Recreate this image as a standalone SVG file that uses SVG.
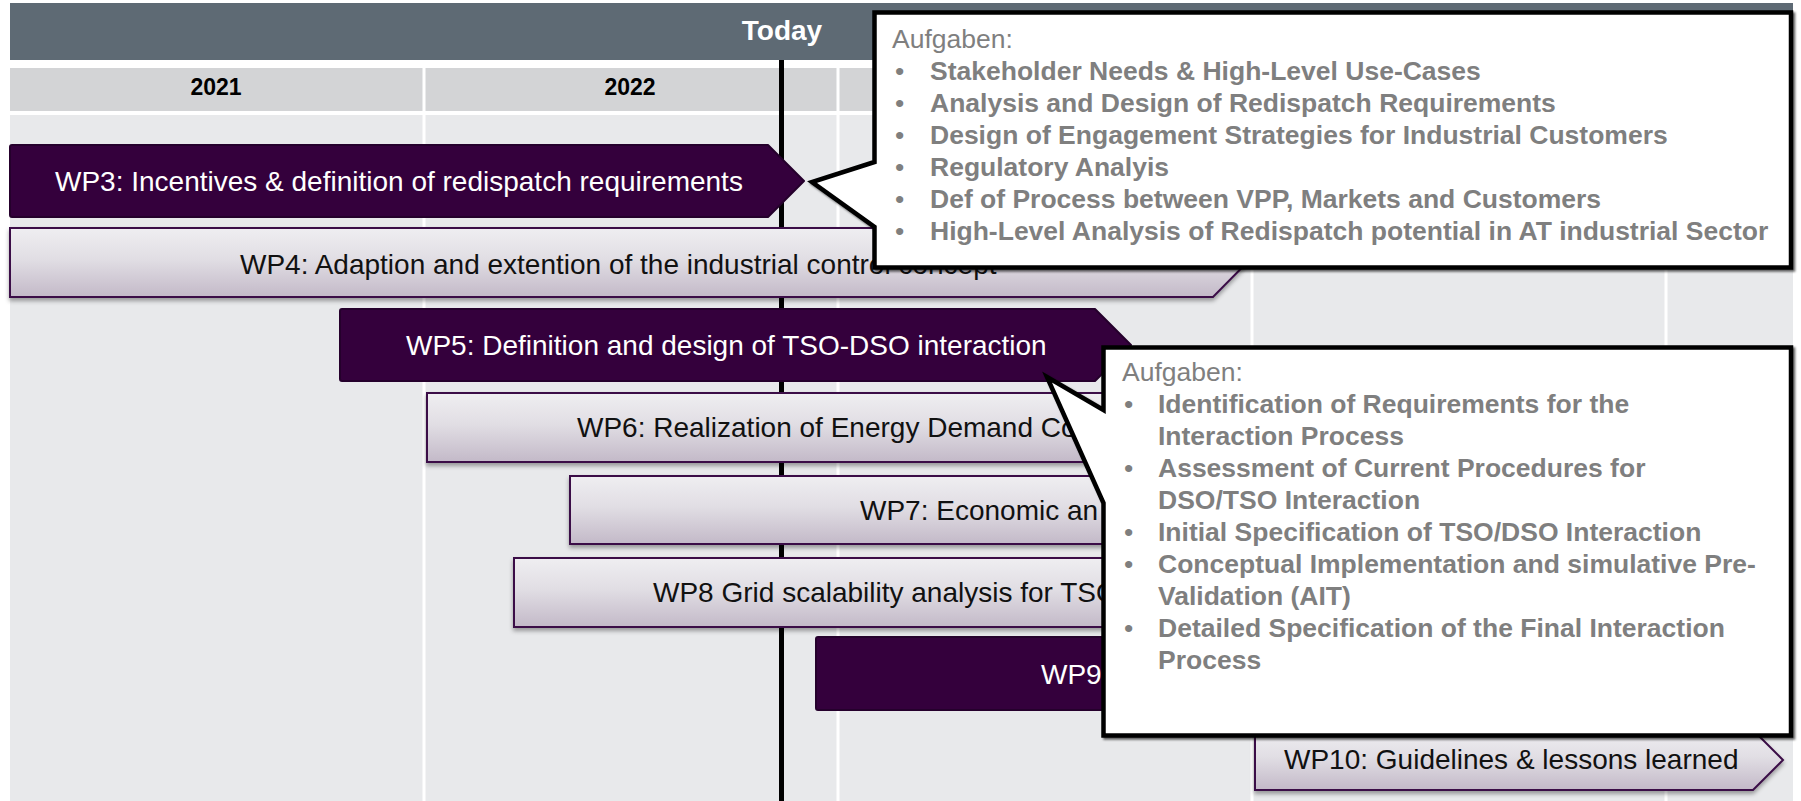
<svg xmlns="http://www.w3.org/2000/svg" width="1801" height="801" viewBox="0 0 1801 801">
<defs>
<linearGradient id="lightGrad" x1="0" y1="0" x2="0" y2="1">
<stop offset="0" stop-color="#efeef1"/>
<stop offset="0.45" stop-color="#e1dee4"/>
<stop offset="1" stop-color="#c3b9c8"/>
</linearGradient>
<filter id="barShadow" x="-5%" y="-20%" width="110%" height="150%">
<feDropShadow dx="0" dy="3" stdDeviation="2" flood-color="#000" flood-opacity="0.35"/>
</filter>
<filter id="boxShadow" x="-5%" y="-5%" width="110%" height="110%">
<feDropShadow dx="2" dy="2" stdDeviation="1" flood-color="#000" flood-opacity="0.6"/>
</filter>
</defs>
<style>
.dark{fill:#34003c;stroke:#25002c;stroke-width:2;stroke-linejoin:round}
.light{fill:url(#lightGrad);stroke:#3b0b47;stroke-width:2;stroke-linejoin:miter;filter:url(#barShadow)}
.wpW{font-family:"Liberation Sans",Arial,sans-serif;font-size:28px;fill:#ffffff}
.wpB{font-family:"Liberation Sans",Arial,sans-serif;font-size:28px;fill:#111111}
.year{font-family:"Liberation Sans",Arial,sans-serif;font-size:23px;font-weight:bold;fill:#000;text-anchor:middle}
.callout{fill:#ffffff;stroke:#000;stroke-width:4.5;stroke-linejoin:miter;filter:url(#boxShadow)}
.ctitle{font-family:"Liberation Sans",Arial,sans-serif;font-size:26.5px;fill:#7f7f7f}
.citem{font-family:"Liberation Sans",Arial,sans-serif;font-size:26.5px;font-weight:bold;fill:#7f7f7f}
.bullet{font-family:"Liberation Sans",Arial,sans-serif;font-size:26.5px;fill:#7f7f7f}
.divider{stroke:#ffffff;stroke-width:3}
</style>
<rect x="0" y="0" width="1801" height="801" fill="#ffffff"/>
<g id="timeline">
<rect x="10" y="3" width="1783" height="57" fill="#5e6a74"/>
<rect x="10" y="68" width="1783" height="43" fill="#d3d4d6"/>
<rect x="10" y="115" width="1783" height="686" fill="#e8e9eb"/>
<line class="divider" x1="424" y1="68" x2="424" y2="801"/>
<line class="divider" x1="838" y1="68" x2="838" y2="801"/>
<line class="divider" x1="1252" y1="68" x2="1252" y2="801"/>
<line class="divider" x1="1666" y1="68" x2="1666" y2="801"/>
<text class="year" x="216" y="95">2021</text>
<text class="year" x="630" y="95">2022</text>
<text x="782" y="40" font-family="Liberation Sans, Arial, sans-serif" font-size="28" font-weight="bold" fill="#ffffff" text-anchor="middle">Today</text>
<line x1="781.5" y1="60" x2="781.5" y2="801" stroke="#000" stroke-width="5"/>
</g>
<g id="connectors"></g>
<g id="wp3">
<path class="dark" d="M12,145 H768 L804,181 L768,217 H12 Q10,217 10,215 V147 Q10,145 12,145 Z"/>
<text class="wpW" x="55" y="191">WP3: Incentives &amp; definition of redispatch requirements</text>
</g>
<g id="wp4">
<path class="light" d="M10,228 H1213 L1247,262.5 L1213,297 H10 Z"/>
<text class="wpB" x="240" y="274">WP4: Adaption and extention of the industrial control concept</text>
</g>
<g id="wp5">
<path class="dark" d="M342,309 H1095 L1131,345 L1095,381 H342 Q340,381 340,379 V311 Q340,309 342,309 Z"/>
<text class="wpW" x="406" y="355">WP5: Definition and design of TSO-DSO interaction</text>
</g>
<g id="wp6">
<rect class="light" x="427" y="393" width="1000" height="69"/>
<text class="wpB" x="577" y="437">WP6: Realization of Energy Demand Co</text>
</g>
<g id="wp7">
<rect class="light" x="570" y="476" width="900" height="68"/>
<text class="wpB" x="860" y="520">WP7: Economic an</text>
</g>
<g id="wp8">
<rect class="light" x="514" y="558" width="900" height="69"/>
<text class="wpB" x="653" y="602">WP8 Grid scalability analysis for TSO</text>
</g>
<g id="wp9">
<rect class="dark" x="816" y="637" width="700" height="73" rx="2"/>
<text class="wpW" x="1041" y="684">WP9</text>
</g>
<g id="wp10">
<path class="light" d="M1255,730 H1753 L1783,760 L1753,790 H1255 Z"/>
<text class="wpB" x="1284" y="769">WP10: Guidelines &amp; lessons learned</text>
</g>
<g id="callout-wp3">
<path class="callout" d="M874.5,12.5 H1791 V267.5 H874.5 V227 L812,182 L874.5,162 Z"/>
<text class="ctitle" x="892" y="48">Aufgaben:</text>
<g class="bullet">
<text x="895" y="80">•</text>
<text x="895" y="112">•</text>
<text x="895" y="144">•</text>
<text x="895" y="176">•</text>
<text x="895" y="208">•</text>
<text x="895" y="240">•</text>
</g>
<text class="citem" x="930" y="80">Stakeholder Needs &amp; High-Level Use-Cases</text>
<text class="citem" x="930" y="112">Analysis and Design of Redispatch Requirements</text>
<text class="citem" x="930" y="144">Design of Engagement Strategies for Industrial Customers</text>
<text class="citem" x="930" y="176">Regulatory Analyis</text>
<text class="citem" x="930" y="208">Def of Process between VPP, Markets and Customers</text>
<text class="citem" x="930" y="240">High-Level Analysis of Redispatch potential in AT industrial Sector</text>
</g>
<g id="callout-wp5">
<path class="callout" d="M1103.5,347.5 H1791 V735.5 H1103.5 V503 L1047,377 L1103.5,410 Z"/>
<text class="ctitle" x="1122" y="381">Aufgaben:</text>
<g class="bullet">
<text x="1124" y="413">•</text>
<text x="1124" y="477">•</text>
<text x="1124" y="541">•</text>
<text x="1124" y="573">•</text>
<text x="1124" y="637">•</text>
</g>
<text class="citem" x="1158" y="413">Identification of Requirements for the</text>
<text class="citem" x="1158" y="445">Interaction Process</text>
<text class="citem" x="1158" y="477">Assessment of Current Procedures for</text>
<text class="citem" x="1158" y="509">DSO/TSO Interaction</text>
<text class="citem" x="1158" y="541">Initial Specification of TSO/DSO Interaction</text>
<text class="citem" x="1158" y="573">Conceptual Implementation and simulative Pre-</text>
<text class="citem" x="1158" y="605">Validation (AIT)</text>
<text class="citem" x="1158" y="637">Detailed Specification of the Final Interaction</text>
<text class="citem" x="1158" y="669">Process</text>
</g>
</svg>
